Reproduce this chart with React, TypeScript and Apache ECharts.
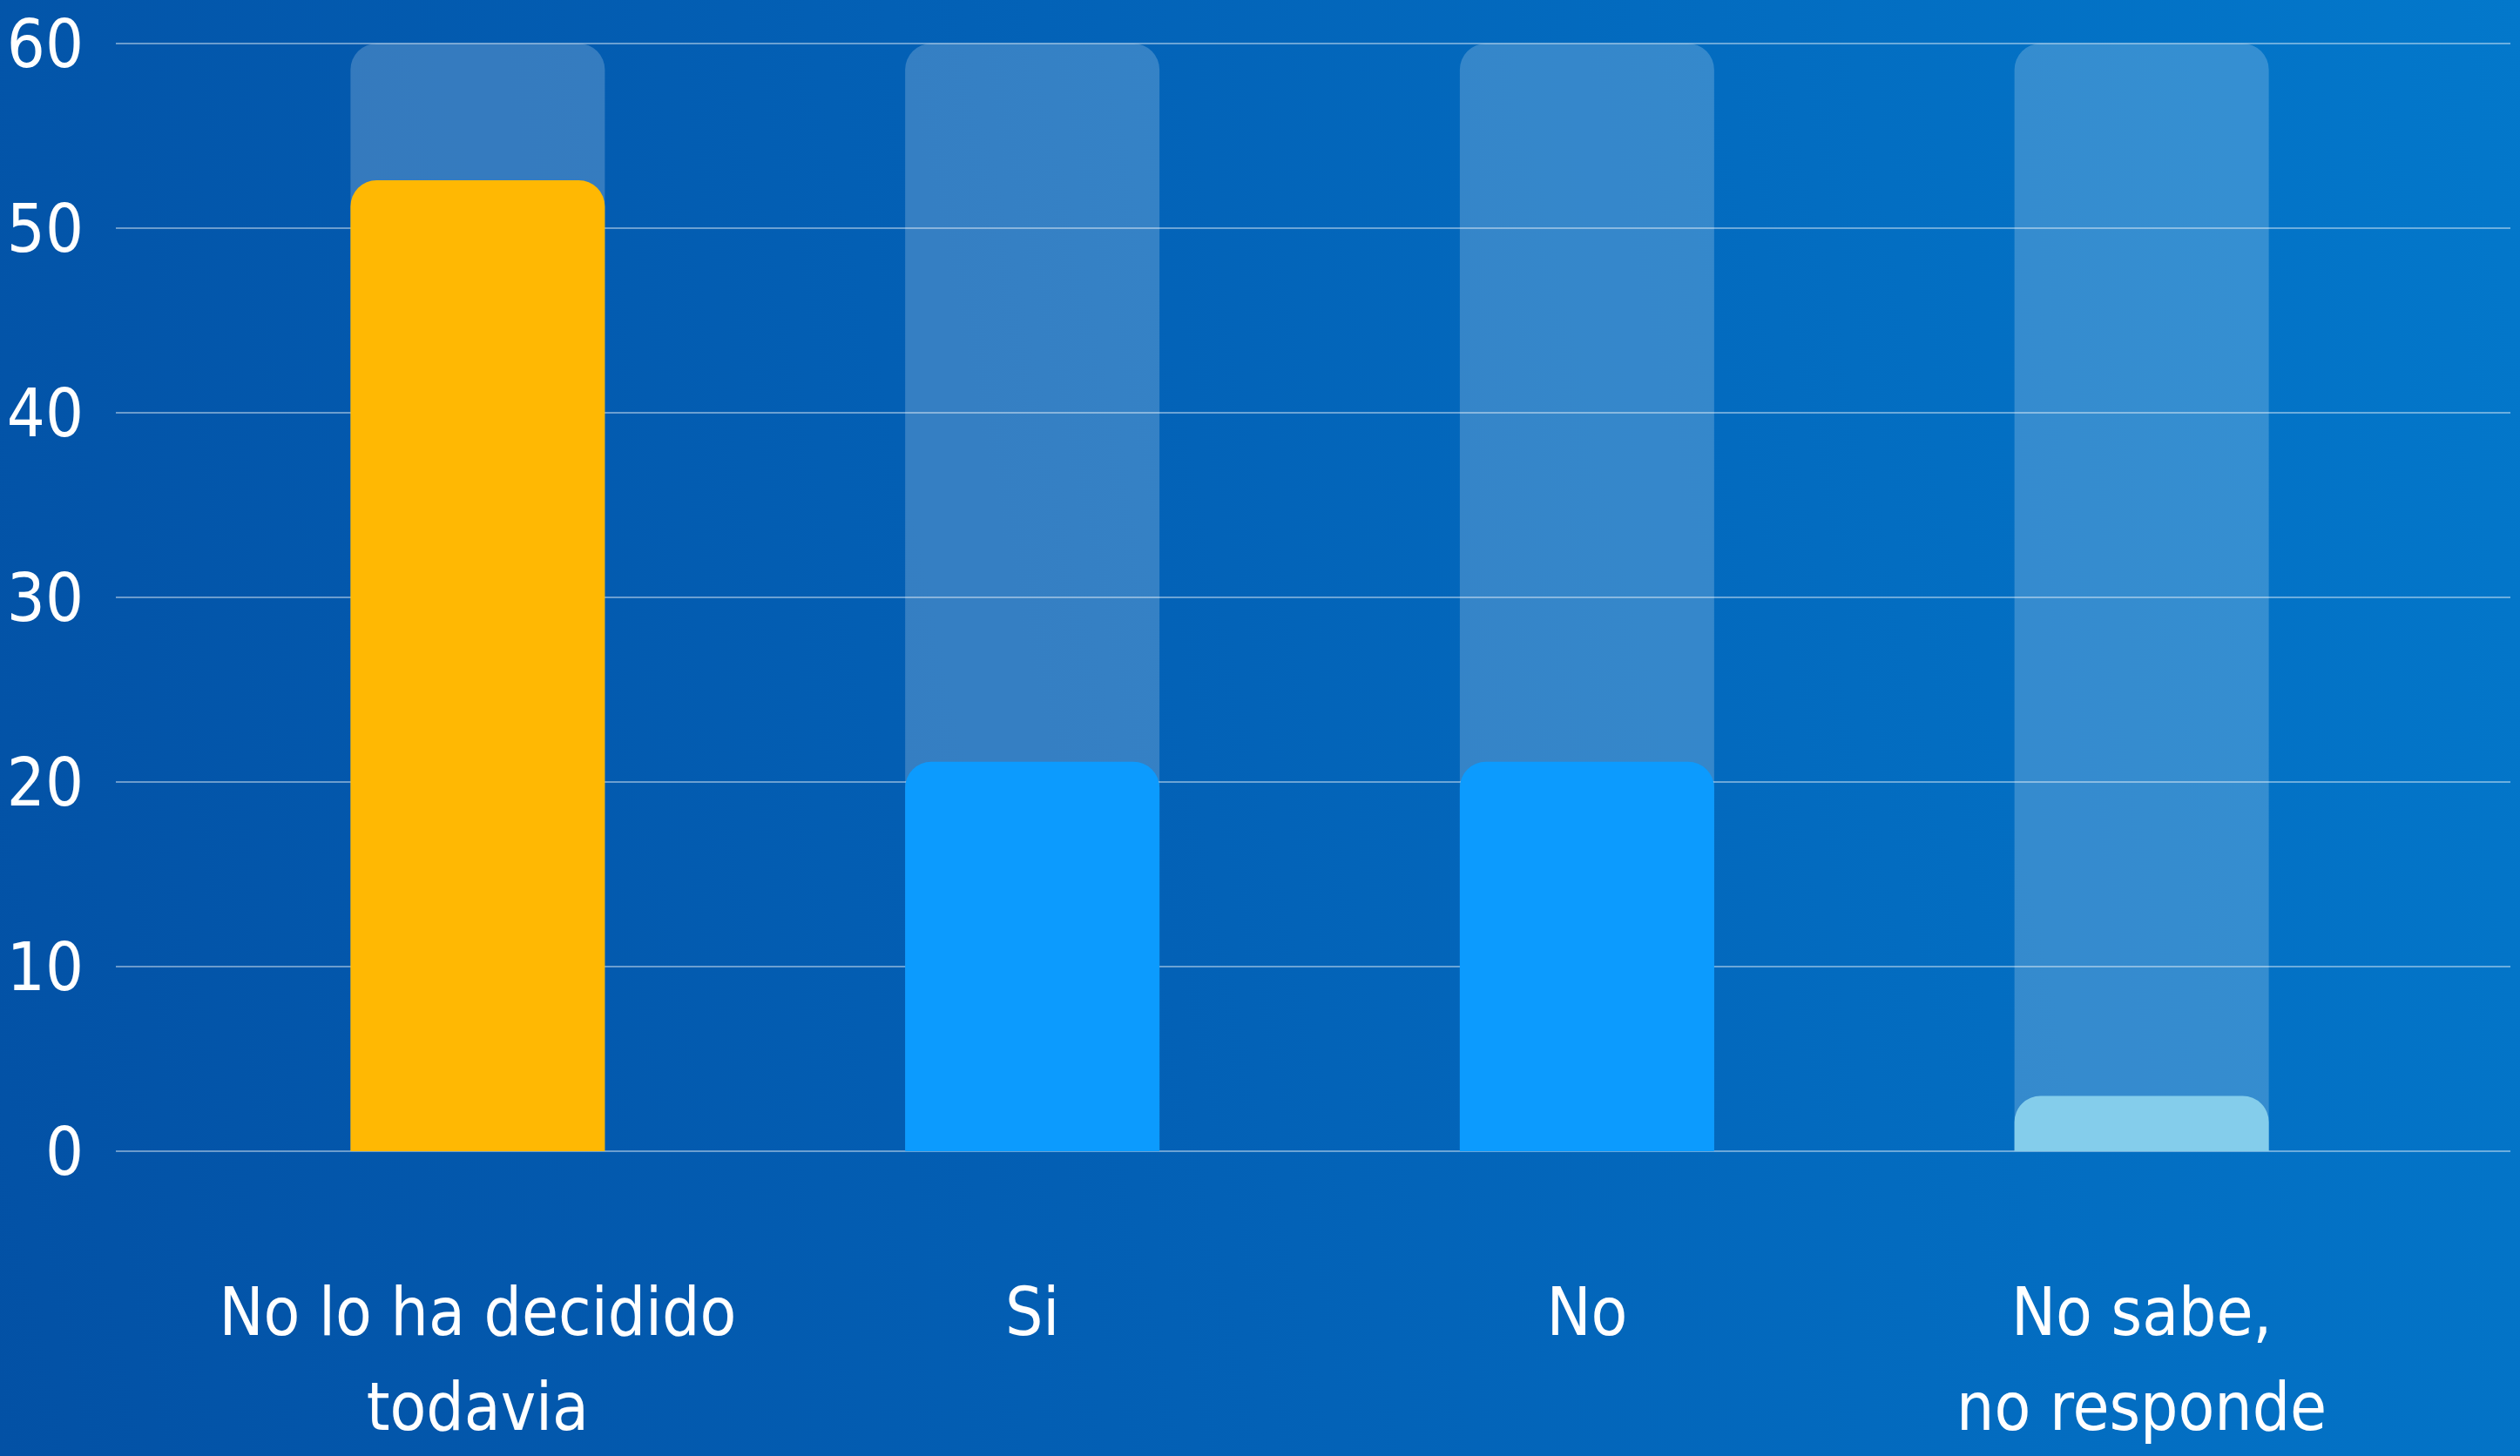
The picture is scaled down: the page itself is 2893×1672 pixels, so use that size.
import React, { useEffect, useRef } from "react";
import * as echarts from "echarts";

const categories = ["No lo ha decidido\ntodavia", "Si", "No", "No sabe,\nno responde"];
const values = [52.6, 21.1, 21.1, 3.0];
const barColors = ["#FFB803", "#0C9BFE", "#0C9BFE", "#84CDEB"];
const yMin = 0;
const yMax = 60;
const yInterval = 10;

const FONT = "'Liberation Sans Narrow', 'DejaVu Sans Condensed', 'Roboto Condensed', Roboto, sans-serif";

export default function App() {
  const ref = useRef<HTMLDivElement>(null);

  useEffect(() => {
    document.body.style.margin = "0";
    if (!ref.current) return;
    const chart = echarts.init(ref.current, undefined, { renderer: "svg" });
    chart.setOption({
      animation: false,
      backgroundColor: "transparent",
      grid: [
        { left: 133, right: 11, top: 50, bottom: 350 },
        { left: 230, right: 116, top: 50, bottom: 350 },
      ],
      xAxis: [
        { type: "category", gridIndex: 0, data: categories, show: false },
        {
          type: "category",
          gridIndex: 1,
          data: categories,
          axisLine: { show: false },
          axisTick: { show: false },
          axisLabel: {
            color: "#FFFFFF",
            fontFamily: FONT,
            fontSize: 76,
            lineHeight: 109,
            margin: 130,
            interval: 0,
          },
        },
      ],
      yAxis: [
        {
          type: "value",
          gridIndex: 0,
          min: yMin,
          max: yMax,
          interval: yInterval,
          axisLine: { show: false },
          axisTick: { show: false },
          axisLabel: {
            color: "#FFFFFF",
            fontFamily: FONT,
            fontSize: 77,
            margin: 37,
          },
          splitLine: { lineStyle: { color: "rgba(255,255,255,0.42)", width: 2 } },
        },
        {
          type: "value",
          gridIndex: 1,
          min: yMin,
          max: yMax,
          interval: yInterval,
          show: false,
          splitLine: { show: false },
        },
      ],
      series: [
        {
          type: "bar",
          xAxisIndex: 1,
          yAxisIndex: 1,
          barWidth: 292,
          showBackground: true,
          backgroundStyle: {
            color: "rgba(255,255,255,0.2)",
            borderRadius: [30, 30, 0, 0],
          },
          data: values.map((v, i) => ({
            value: v,
            itemStyle: { color: barColors[i], borderRadius: [30, 30, 0, 0] },
          })),
        },
      ],
    });
    return () => chart.dispose();
  }, []);

  return (
    <div
      ref={ref}
      style={{
        width: 2893,
        height: 1672,
        background: "linear-gradient(78deg, #0351A5 0%, #0361B6 45%, #0378CB 100%)",
      }}
    />
  );
}
